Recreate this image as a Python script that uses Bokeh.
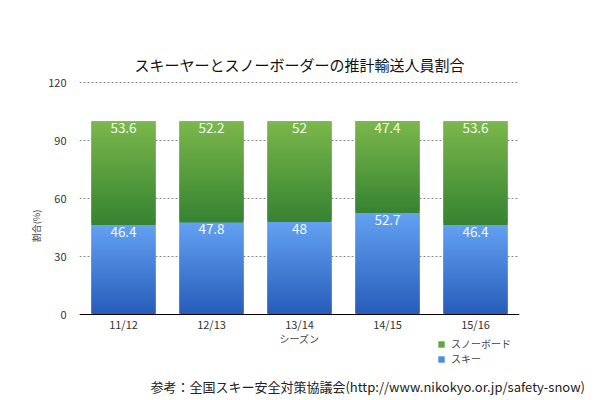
from bokeh.plotting import figure
from bokeh.layouts import column
from bokeh.models import (ColumnDataSource, Legend, LegendItem, FactorRange, Div,
                          SingleIntervalTicker, Range1d, CategoricalAxis)
from bokeh.embed import file_html
from bokeh.resources import INLINE
from bokeh.core.properties import value

seasons = ["11/12", "12/13", "13/14", "14/15", "15/16"]
ski = [46.4, 47.8, 48, 52.7, 46.4]
snowboard = [53.6, 52.2, 52, 47.4, 53.6]
ski_label = ["46.4", "47.8", "48", "52.7", "46.4"]
snowboard_label = ["53.6", "52.2", "52", "47.4", "53.6"]
y_ticks_interval = 30
y_max = 120

FONT = "Noto Sans CJK JP"
N = 60

def mix(c1, c2, t):
    return "#%02x%02x%02x" % tuple(int(round(a + (b - a) * t)) for a, b in zip(c1, c2))

GREEN_TOP, GREEN_BOT = (124, 184, 76), (56, 132, 50)
BLUE_TOP, BLUE_BOT = (100, 162, 242), (40, 94, 186)

def gradient_source(bottoms, tops, ctop, cbot, extend_down=0.0):
    xs, bs, ts, cs = [], [], [], []
    for s, b0, t0 in zip(seasons, bottoms, tops):
        h = (t0 - b0) / N
        for i in range(N):
            xs.append(s)
            b = t0 - (i + 1) * h
            if i == N - 1:
                b -= extend_down
            bs.append(b)
            ts.append(t0 if i == 0 else t0 - i * h + h)
            cs.append(mix(ctop, cbot, i / (N - 1)))
    return ColumnDataSource(dict(x=xs, bottom=bs, top=ts, color=cs))

ski_top = ski
sb_bottom = ski
sb_top = [a + b for a, b in zip(ski, snowboard)]

# main plot: frame from y=81 to y=370 (px), 0 at 314 px, 120 at 82 px
PX_PER_UNIT = 232 / 120
p = figure(width=600, height=370, x_range=FactorRange(*seasons),
           y_range=Range1d(-56 / PX_PER_UNIT, y_max + 1 / PX_PER_UNIT),
           output_backend="svg", toolbar_location=None, x_axis_location=None,
           min_border_left=79, min_border_right=81, min_border_top=81, min_border_bottom=0)

p.title.text = "スキーヤーとスノーボーダーの推計輸送人員割合"
p.title.align = "center"
p.title.text_font = FONT
p.title.text_font_size = "15px"
p.title.text_font_style = "normal"
p.title.text_color = "#111111"
p.title.standoff = 13

ski_src = gradient_source([0] * 5, ski_top, BLUE_TOP, BLUE_BOT)
sb_src = gradient_source(sb_bottom, sb_top, GREEN_TOP, GREEN_BOT, extend_down=0.15)
r_ski = p.vbar(x="x", bottom="bottom", top="top", width=0.73, fill_color="color",
               line_color=None, source=ski_src)
r_sb = p.vbar(x="x", bottom="bottom", top="top", width=0.73, fill_color="color",
              line_color=None, source=sb_src)

lab = ColumnDataSource(dict(x=seasons + seasons, y=ski_top + sb_top,
                            t=ski_label + snowboard_label))
p.text(x="x", y="y", text="t", source=lab, text_align="center", text_baseline="top",
       y_offset=2, text_color="#f4f8f4", text_font=value(FONT), text_font_size="13.5px")

p.outline_line_color = None
p.background_fill_color = "white"
p.border_fill_color = "white"

p.xgrid.grid_line_color = None
p.ygrid.ticker = SingleIntervalTicker(interval=y_ticks_interval)
p.ygrid.grid_line_color = "#888888"
p.ygrid.grid_line_dash = "2 2"
p.ygrid.grid_line_width = 1

yax = p.yaxis[0]
yax.ticker = SingleIntervalTicker(interval=y_ticks_interval)
yax.bounds = (0, y_max)
yax.axis_line_color = None
yax.major_tick_line_color = None
yax.minor_tick_line_color = None
yax.major_tick_out = 0
yax.major_tick_in = 0
yax.major_label_text_font = FONT
yax.major_label_text_font_size = "11px"
yax.major_label_text_color = "#333333"
yax.major_label_standoff = 9
yax.axis_label = "割合(%)"
yax.axis_label_text_font = FONT
yax.axis_label_text_font_size = "9px"
yax.axis_label_text_font_style = "normal"
yax.axis_label_standoff = 2

xax = CategoricalAxis(fixed_location=0)
xax.axis_line_color = "black"
xax.axis_line_width = 1
xax.major_tick_line_color = None
xax.minor_tick_line_color = None
xax.major_tick_out = 0
xax.major_tick_in = 0
xax.major_label_text_font = FONT
xax.major_label_text_font_size = "11px"
xax.major_label_text_color = "#333333"
xax.major_label_standoff = 1
xax.axis_label = "シーズン"
xax.axis_label_text_font = FONT
xax.axis_label_text_font_size = "10px"
xax.axis_label_text_font_style = "normal"
xax.axis_label_standoff = -4
p.add_layout(xax, "below")

legend = Legend(items=[LegendItem(label="スノーボード", renderers=[r_sb], index=N // 3),
                       LegendItem(label="スキー", renderers=[r_ski], index=N // 3)],
                location=(358, 4), padding=0, margin=0, spacing=0,
                glyph_width=8, glyph_height=8, label_height=12, label_standoff=6,
                label_text_font=FONT, label_text_font_size="10px",
                background_fill_alpha=0, border_line_color=None)
p.add_layout(legend, "center")

footnote = "参考：全国スキー安全対策協議会(http://www.nikokyo.or.jp/safety-snow)"
f = Div(text=footnote, width=600, height=30,
        styles={"font-family": FONT, "font-size": "13px", "color": "#222222",
                "text-align": "right", "line-height": "24px", "padding-right": "20px",
                "box-sizing": "border-box", "white-space": "nowrap", "width": "600px"})

layout = column(p, f, spacing=0)
open("out.html", "w").write(file_html(layout, INLINE))
